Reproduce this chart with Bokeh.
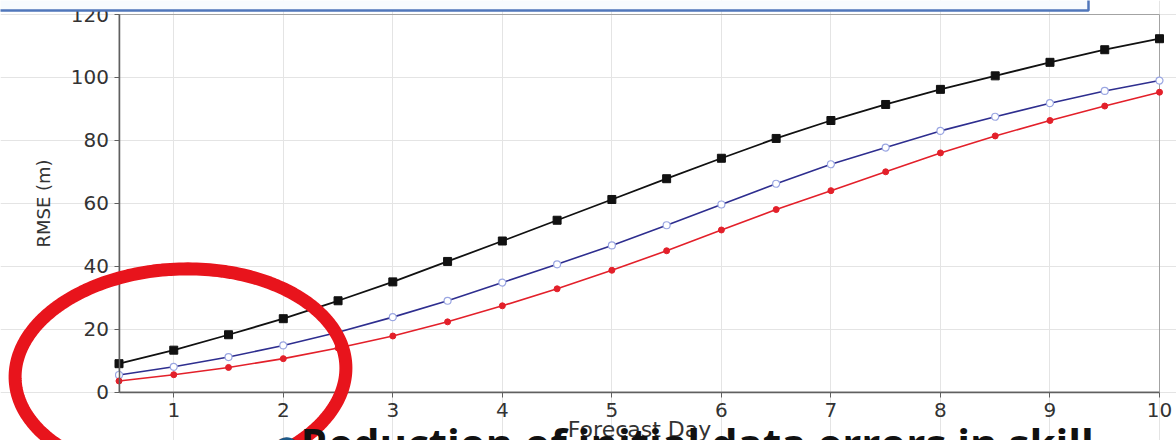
import numpy as np
from bokeh.plotting import figure
from bokeh.models import FixedTicker, PolyAnnotation, BoxAnnotation, Label
from bokeh.embed import file_html
from bokeh.resources import INLINE

# ---- data ----
forecast_day = [0.5, 1.0, 1.5, 2.0, 2.5, 3.0, 3.5, 4.0, 4.5, 5.0,
                5.5, 6.0, 6.5, 7.0, 7.5, 8.0, 8.5, 9.0, 9.5, 10.0]
rmse_black = [9.0, 13.3, 18.2, 23.3, 29.0, 35.0, 41.5, 48.0, 54.6, 61.2,
              67.8, 74.3, 80.6, 86.3, 91.4, 96.2, 100.5, 104.8, 108.8, 112.3]
rmse_blue = [5.4, 8.0, 11.1, 14.8, 19.0, 23.8, 29.0, 34.8, 40.6, 46.6,
             53.0, 59.6, 66.2, 72.4, 77.7, 83.0, 87.5, 91.8, 95.7, 99.0]
rmse_red = [3.5, 5.5, 7.8, 10.6, 14.0, 17.8, 22.3, 27.4, 32.8, 38.7,
            44.9, 51.5, 58.0, 64.0, 70.0, 76.0, 81.4, 86.3, 90.9, 95.3]
x_ticks = [1, 2, 3, 4, 5, 6, 7, 8, 9, 10]
y_ticks = [0, 20, 40, 60, 80, 100, 120]
x_lo, x_hi = 0.5, 10.0
y_lo, y_hi = 0.0, 120.0

FONT = "DejaVu Sans"
W, H = 1176, 440
# pixel placement of the data area inside the slide picture
PX_LEFT, PX_RIGHT, PX_TOP, PX_BOTTOM = 118.5, 1159.0, 14.0, 391.5

kx = (PX_RIGHT - PX_LEFT) / (x_hi - x_lo)
ky = (PX_BOTTOM - PX_TOP) / (y_hi - y_lo)
x_range = (x_lo - PX_LEFT / kx, x_hi + (W - PX_RIGHT) / kx)
y_range = (y_lo - (H - PX_BOTTOM) / ky, y_hi + PX_TOP / ky)

p = figure(width=W, height=H, x_range=x_range, y_range=y_range,
           output_backend="svg", toolbar_location=None,
           min_border=0, min_border_left=0, min_border_right=0,
           min_border_top=0, min_border_bottom=0)
p.background_fill_color = "white"
p.border_fill_color = "white"
p.outline_line_color = None

p.xaxis.fixed_location = y_lo
p.yaxis.fixed_location = x_lo
p.xaxis.bounds = (x_lo, x_hi)
p.yaxis.bounds = (y_lo, y_hi)
p.xaxis.ticker = FixedTicker(ticks=x_ticks)
p.yaxis.ticker = FixedTicker(ticks=y_ticks)
p.xgrid.ticker = FixedTicker(ticks=x_ticks)
p.ygrid.ticker = FixedTicker(ticks=y_ticks)
p.xgrid.bounds = (y_lo, y_hi)
p.ygrid.bounds = (x_lo, x_hi)
p.grid.grid_line_color = "#e4e4e4"
p.grid.grid_line_width = 1

# plot-area border (top and right sides)
p.add_layout(BoxAnnotation(left=x_lo, right=x_hi, bottom=y_lo, top=y_hi,
                           fill_alpha=0, line_color="#a3a3a3", line_alpha=1,
                           line_width=1, level="underlay"))

for ax in (p.xaxis, p.yaxis):
    ax.axis_line_color = "#606060"
    ax.axis_line_width = 1.5
    ax.major_tick_line_color = "#606060"
    ax.major_tick_out = 5
    ax.major_tick_in = 0
    ax.minor_tick_line_color = None
    ax.major_label_text_font = FONT
    ax.major_label_text_font_size = "20px"
    ax.major_label_text_color = "#333333"
    ax.axis_label_text_font = FONT
    ax.axis_label_text_font_style = "normal"
    ax.axis_label_text_color = "#333333"

p.xaxis.axis_label = "Forecast Day"
p.xaxis.axis_label_text_font_size = "22px"
p.xaxis.major_label_standoff = 6
p.xaxis.axis_label_standoff = -4
p.yaxis.axis_label = "RMSE (m)"
p.yaxis.axis_label_text_font_size = "18px"
p.yaxis.major_label_standoff = 5
p.yaxis.axis_label_standoff = 14

# ---- series ----
p.line(forecast_day, rmse_black, line_color="#111111", line_width=1.8)
p.scatter(forecast_day, rmse_black, marker="square", size=8,
          fill_color="#111111", line_color="#111111")
p.line(forecast_day, rmse_blue, line_color="#2e2e8f", line_width=1.6)
p.scatter(forecast_day, rmse_blue, marker="circle", size=7,
          fill_color="white", line_color="#9aa6e2", line_width=1.2)
p.line(forecast_day, rmse_red, line_color="#e3202a", line_width=1.6)
p.scatter(forecast_day, rmse_red, marker="circle", size=6,
          fill_color="#e3202a", line_color="#e3202a")

# ---- slide overlays ----
# top text box (slide element)
p.add_layout(BoxAnnotation(left=-10, right=1088, top=-10, bottom=10,
                           left_units="canvas", right_units="canvas",
                           top_units="canvas", bottom_units="canvas",
                           fill_color="#f7fbfe", fill_alpha=1,
                           line_color="#5077bb", line_alpha=1, line_width=2.5,
                           level="overlay"))

# red hand-drawn ellipse highlight
t = np.linspace(0, 2 * np.pi, 240)
cx, cy, a, b, tilt = 180.0, 372.0, 165.5, 103.5, np.deg2rad(2.5)
ex = cx + a * np.cos(t) * np.cos(tilt) + b * np.sin(t) * np.sin(tilt)
ey = cy - a * np.cos(t) * np.sin(tilt) + b * np.sin(t) * np.cos(tilt)
p.add_layout(PolyAnnotation(xs=list(ex), ys=list(ey),
                            xs_units="canvas", ys_units="canvas",
                            fill_alpha=0, line_color="#e8141c", line_alpha=1,
                            line_width=13, level="overlay"))

# clipped slide bullet text at the bottom
p.add_layout(Label(x=286, y=H - 446, x_units="screen",
                   y_units="screen", text="\u25cf", text_color="#1d5a88",
                   text_font=FONT, text_font_size="34px", text_align="center",
                   text_baseline="middle", level="overlay"))
p.add_layout(Label(x=300, y=H - 413, x_units="screen",
                   y_units="screen", text="Reduction of initial data errors in skill",
                   text_color="#111111", text_font="Open Sans",
                   text_font_style="bold", text_font_size="42px",
                   text_align="left", text_baseline="top",
                   level="overlay"))

open("out.html", "w").write(file_html(p, INLINE))
